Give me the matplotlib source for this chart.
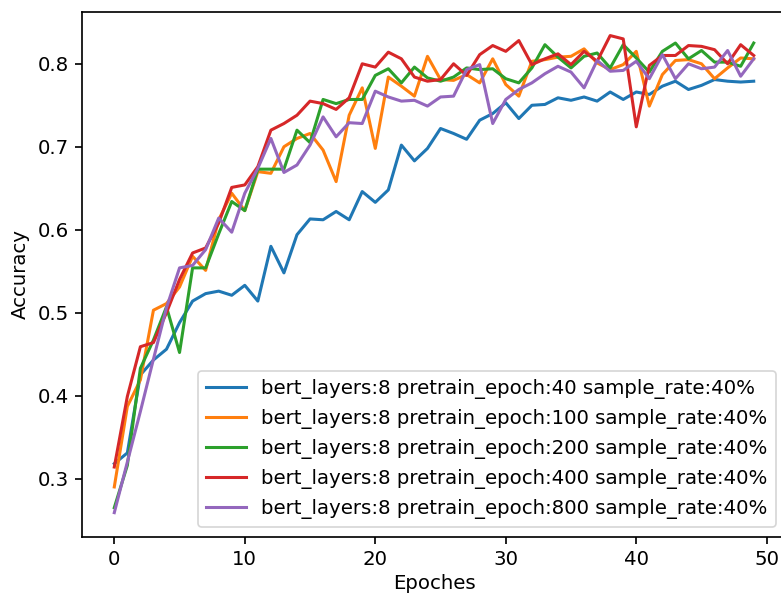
import matplotlib
matplotlib.use("Agg")
import matplotlib.pyplot as plt
import numpy as np

epochs = list(range(50))

labels = [
    "bert_layers:8 pretrain_epoch:40 sample_rate:40%",
    "bert_layers:8 pretrain_epoch:100 sample_rate:40%",
    "bert_layers:8 pretrain_epoch:200 sample_rate:40%",
    "bert_layers:8 pretrain_epoch:400 sample_rate:40%",
    "bert_layers:8 pretrain_epoch:800 sample_rate:40%",
]

acc_40 = [0.318, 0.331, 0.425, 0.443, 0.456, 0.488, 0.514, 0.523, 0.526, 0.521,
          0.533, 0.514, 0.580, 0.548, 0.594, 0.613, 0.612, 0.622, 0.612, 0.646,
          0.633, 0.648, 0.702, 0.683, 0.698, 0.722, 0.716, 0.709, 0.732, 0.740,
          0.753, 0.734, 0.750, 0.751, 0.759, 0.756, 0.760, 0.755, 0.766, 0.757,
          0.766, 0.763, 0.773, 0.779, 0.769, 0.774, 0.781, 0.779, 0.778, 0.779]

acc_100 = [0.290, 0.387, 0.419, 0.503, 0.511, 0.531, 0.568, 0.551, 0.612, 0.644,
           0.623, 0.670, 0.668, 0.700, 0.710, 0.716, 0.696, 0.658, 0.738, 0.771,
           0.698, 0.784, 0.773, 0.761, 0.809, 0.781, 0.780, 0.787, 0.777, 0.806,
           0.775, 0.761, 0.803, 0.805, 0.808, 0.809, 0.818, 0.801, 0.793, 0.799,
           0.815, 0.749, 0.787, 0.804, 0.805, 0.800, 0.782, 0.795, 0.807, 0.806]

acc_200 = [0.265, 0.316, 0.433, 0.467, 0.507, 0.452, 0.554, 0.554, 0.595, 0.634,
           0.623, 0.673, 0.673, 0.673, 0.720, 0.705, 0.757, 0.752, 0.757, 0.757,
           0.786, 0.794, 0.777, 0.796, 0.783, 0.779, 0.784, 0.795, 0.793, 0.794,
           0.782, 0.777, 0.795, 0.823, 0.808, 0.795, 0.809, 0.813, 0.795, 0.823,
           0.807, 0.790, 0.815, 0.825, 0.806, 0.816, 0.802, 0.802, 0.797, 0.825]

acc_400 = [0.314, 0.399, 0.459, 0.464, 0.500, 0.540, 0.572, 0.578, 0.608, 0.651,
           0.654, 0.676, 0.720, 0.728, 0.738, 0.755, 0.752, 0.745, 0.759, 0.800,
           0.796, 0.814, 0.806, 0.784, 0.779, 0.781, 0.800, 0.786, 0.811, 0.822,
           0.815, 0.828, 0.799, 0.806, 0.812, 0.799, 0.815, 0.803, 0.834, 0.830,
           0.724, 0.798, 0.810, 0.810, 0.822, 0.821, 0.817, 0.800, 0.823, 0.810]

acc_800 = [0.259, 0.320, 0.381, 0.444, 0.506, 0.554, 0.557, 0.576, 0.614, 0.597,
           0.644, 0.674, 0.710, 0.669, 0.678, 0.702, 0.736, 0.712, 0.729, 0.728,
           0.767, 0.760, 0.755, 0.756, 0.749, 0.760, 0.761, 0.793, 0.799, 0.728,
           0.757, 0.769, 0.777, 0.788, 0.797, 0.790, 0.771, 0.804, 0.791, 0.792,
           0.803, 0.782, 0.811, 0.782, 0.800, 0.794, 0.796, 0.816, 0.785, 0.806]

series = [acc_40, acc_100, acc_200, acc_400, acc_800]

plt.rcParams["font.size"] = 11.7
plt.rcParams["axes.linewidth"] = 1.0

dpi = 122
fig = plt.figure(figsize=(781 / dpi, 595 / dpi), dpi=dpi)
ax = fig.add_axes([0.1054, 0.0983, 0.9006, 0.882])

for vals, lab in zip(series, labels):
    ax.plot(epochs, vals, label=lab, linewidth=1.8)

ax.set_xlabel("Epoches", labelpad=3)
ax.set_ylabel("Accuracy", labelpad=5)
ax.set_xticks([0, 10, 20, 30, 40, 50])
ax.tick_params(length=4.2, width=1.0)
ax.legend(loc="lower right")

fig.savefig("out.png", dpi=dpi)
